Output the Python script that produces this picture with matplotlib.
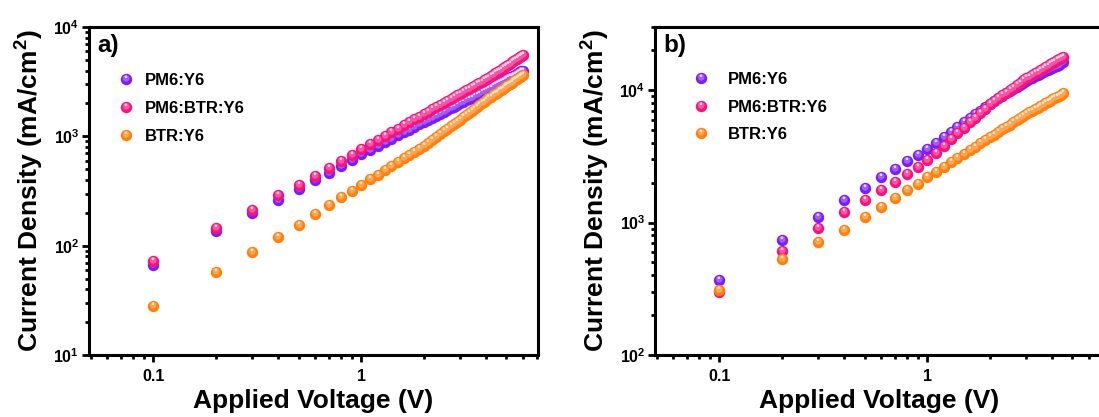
import numpy as np
import matplotlib
matplotlib.use("Agg")
import matplotlib.pyplot as plt
from matplotlib.path import Path
from matplotlib.colors import to_rgb
from matplotlib.ticker import LogLocator, FuncFormatter, NullFormatter

# ---- data (J in mA/cm^2) ----
labels = ["PM6:Y6", "PM6:BTR:Y6", "BTR:Y6"]
colors = ["#7C1CF6", "#F7127E", "#FF800C"]

# panel a)
voltage_a = [0.1, 0.2, 0.3, 0.4, 0.5, 0.6, 0.7, 0.8, 0.9, 1.0,
             1.1, 1.2, 1.3, 1.4, 1.5, 1.6, 1.7, 1.8, 1.9, 2.0,
             2.1, 2.2, 2.3, 2.4, 2.5, 2.6, 2.7, 2.8, 2.9, 3.0,
             3.1, 3.2, 3.3, 3.4, 3.5, 3.6, 3.7, 3.8, 3.9, 4.0,
             4.1, 4.2, 4.3, 4.4, 4.5, 4.6, 4.7, 4.8, 4.9, 5.0,
             5.1, 5.2, 5.3, 5.4, 5.5, 5.6, 5.7, 5.8, 5.9, 6.0]
pm6_y6_a = [66, 135, 197, 262, 330, 398, 462, 530, 605, 685,
            752, 819, 886, 952, 1019, 1085, 1152, 1218, 1284, 1350,
            1415, 1481, 1546, 1611, 1676, 1741, 1806, 1871, 1935, 2000,
            2066, 2132, 2198, 2264, 2330, 2396, 2462, 2528, 2594, 2660,
            2726, 2792, 2858, 2924, 2990, 3056, 3122, 3188, 3254, 3320,
            3388, 3456, 3524, 3592, 3660, 3728, 3796, 3864, 3932, 4000]
pm6_btr_y6_a = [72, 145, 212, 289, 362, 436, 513, 590, 673, 760,
                842, 924, 1007, 1091, 1175, 1259, 1344, 1429, 1514, 1600,
                1684, 1769, 1853, 1938, 2023, 2108, 2193, 2279, 2364, 2450,
                2539, 2628, 2718, 2807, 2897, 2988, 3078, 3169, 3259, 3350,
                3452, 3556, 3660, 3764, 3869, 3974, 4080, 4186, 4292, 4400,
                4517, 4634, 4752, 4872, 4991, 5112, 5233, 5355, 5477, 5600]
btr_y6_a = [28, 57, 88, 121, 156, 195, 236, 276, 318, 360,
            403, 447, 492, 537, 583, 629, 676, 724, 772, 820,
            876, 933, 991, 1050, 1109, 1170, 1231, 1293, 1356, 1420,
            1489, 1558, 1629, 1701, 1774, 1847, 1921, 1997, 2073, 2150,
            2221, 2292, 2364, 2436, 2509, 2582, 2656, 2730, 2805, 2880,
            2954, 3029, 3104, 3180, 3255, 3331, 3408, 3485, 3562, 3640]

# panel b)
voltage_b = [0.1, 0.2, 0.3, 0.4, 0.5, 0.6, 0.7, 0.8, 0.9, 1.0,
             1.1, 1.2, 1.3, 1.4, 1.5, 1.6, 1.7, 1.8, 1.9, 2.0,
             2.1, 2.2, 2.3, 2.4, 2.5, 2.6, 2.7, 2.8, 2.9, 3.0,
             3.1, 3.2, 3.3, 3.4, 3.5, 3.6, 3.7, 3.8, 3.9, 4.0,
             4.1, 4.2, 4.3, 4.4, 4.5]
pm6_y6_b = [370, 738, 1107, 1476, 1840, 2210, 2553, 2916, 3258, 3613,
            4023, 4438, 4858, 5281, 5708, 6140, 6574, 7011, 7453, 7900,
            8290, 8680, 9070, 9460, 9850, 10240, 10630, 11020, 11410, 11800,
            12106, 12409, 12710, 13010, 13308, 13603, 13897, 14190, 14481, 14769,
            15056, 15342, 15626, 15908, 16200]
pm6_btr_y6_b = [300, 614, 904, 1199, 1476, 1754, 2028, 2344, 2630, 2950,
                3372, 3810, 4263, 4730, 5211, 5704, 6210, 6729, 7259, 7800,
                8239, 8681, 9126, 9572, 10021, 10473, 10925, 11382, 11840, 12300,
                12682, 13063, 13443, 13823, 14200, 14578, 14954, 15332, 15708, 16082,
                16457, 16830, 17204, 17577, 17950]
btr_y6_b = [310, 535, 710, 879, 1094, 1315, 1535, 1754, 1972, 2210,
            2429, 2648, 2867, 3086, 3305, 3524, 3743, 3962, 4181, 4400,
            4620, 4840, 5060, 5280, 5500, 5720, 5940, 6160, 6380, 6600,
            6795, 6989, 7183, 7376, 7568, 7760, 7951, 8142, 8332, 8521,
            8710, 8898, 9086, 9274, 9460]

plt.rcParams["font.family"] = ["Liberation Sans", "DejaVu Sans"]
plt.rcParams["font.weight"] = "bold"
plt.rcParams["axes.labelweight"] = "bold"
plt.rcParams["mathtext.fontset"] = "custom"
plt.rcParams["mathtext.rm"] = "Liberation Sans"
plt.rcParams["mathtext.bf"] = "Liberation Sans:bold"
plt.rcParams["mathtext.it"] = "Liberation Sans:italic"

MS = 8.2


def disc(cx, cy, r):
    # off-centre circle marker; matplotlib rescales a path marker so its
    # largest |vertex| is 0.5, so return the matching size factor too
    c = Path.circle((cx, cy), r)
    m = np.abs(c.vertices).max()
    return c, m / 0.5


glow, glow_k = disc(-0.03, 0.10, 0.30)
spot, spot_k = disc(-0.05, 0.24, 0.12)


def tint(c, f):
    r = np.array(to_rgb(c))
    return tuple(r + (1 - r) * f)


def balls(ax, x, y, col, z, **kw):
    ax.plot(x, y, ls="none", marker="o", ms=MS, mfc=col, mec="none",
            zorder=z, **kw)
    ax.plot(x, y, ls="none", marker=glow, ms=MS * glow_k,
            mfc=tint(col, 0.28), mec="none", zorder=z + 0.1, **kw)
    ax.plot(x, y, ls="none", marker=spot, ms=MS * spot_k,
            mfc=tint(col, 0.8), mec="none", zorder=z + 0.2, **kw)


def draw_panel(ax, volt, series, ylim, tag, key_x, text_x, key_y):
    for i, (vals, col) in enumerate(zip(series, colors)):
        balls(ax, volt, vals, col, 3 + i)

    ax.set_xscale("log")
    ax.set_yscale("log")
    ax.set_xlim(0.049, 7.1)
    ax.set_ylim(*ylim)

    ax.xaxis.set_major_locator(LogLocator(base=10))
    ax.xaxis.set_minor_locator(LogLocator(base=10, subs=np.arange(2, 10), numticks=20))
    ax.xaxis.set_major_formatter(FuncFormatter(lambda v, p: f"{v:g}"))
    ax.xaxis.set_minor_formatter(NullFormatter())
    ax.yaxis.set_major_locator(LogLocator(base=10))
    ax.yaxis.set_minor_locator(LogLocator(base=10, subs=np.arange(2, 10), numticks=20))
    ax.yaxis.set_major_formatter(FuncFormatter(
        lambda v, p: r"$\mathbf{10^{%d}}$" % round(np.log10(v))))
    ax.yaxis.set_minor_formatter(NullFormatter())

    ax.tick_params(which="both", direction="out", top=False, right=False,
                   width=2, labelsize=11.5)
    ax.tick_params(axis="x", pad=5)
    ax.tick_params(axis="y", pad=2)
    ax.tick_params(which="major", length=5)
    ax.tick_params(which="minor", length=3)
    for s in ax.spines.values():
        s.set_linewidth(2.2)

    ax.set_xlabel("Applied Voltage (V)", fontsize=19, labelpad=4)
    ax.set_ylabel("Current Density (mA/cm$^{2}$)", fontsize=19, labelpad=5)
    ax.text(0.018, 0.978, tag, transform=ax.transAxes, fontsize=17.5,
            fontweight="bold", va="top", ha="left")

    # key, laid out by hand so the glossy balls look like the plotted ones
    for lab, col, ky in zip(labels, colors, key_y):
        balls(ax, [key_x], [ky], col, 10, transform=ax.transAxes, clip_on=False)
        ax.text(text_x, ky, lab, transform=ax.transAxes, fontsize=12,
                fontweight="bold", va="center_baseline", ha="left")


fig = plt.figure(figsize=(10.99, 4.17), dpi=100)
ax_a = fig.add_axes([89 / 1099, 62 / 417, 449 / 1099, 328 / 417])
ax_b = fig.add_axes([655 / 1099, 62 / 417, 449 / 1099, 328 / 417])

draw_panel(ax_a, voltage_a, [pm6_y6_a, pm6_btr_y6_a, btr_y6_a], (10, 1e4),
           "a)", 0.082, 0.125, [0.841, 0.756, 0.671])
draw_panel(ax_b, voltage_b, [pm6_y6_b, pm6_btr_y6_b, btr_y6_b], (100, 3e4),
           "b)", 0.102, 0.163, [0.844, 0.759, 0.677])

fig.savefig("out.png", dpi=100)
